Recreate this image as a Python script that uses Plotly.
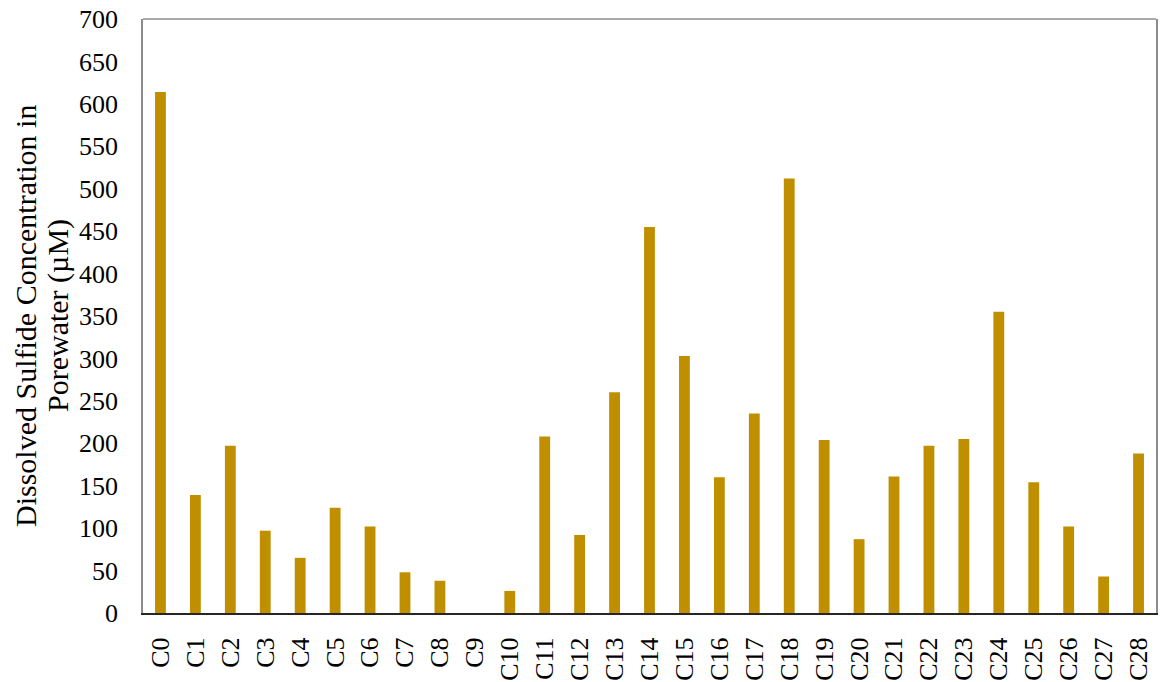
import plotly.graph_objects as go

categories = [f"C{i}" for i in range(29)]
values = [614, 139, 197, 97, 65, 124, 102, 48, 38, 0, 26, 208, 92, 260, 455,
          303, 160, 235, 512, 204, 87, 161, 197, 205, 355, 154, 102, 43, 188]
y_ticks = list(range(0, 701, 50))
y_title = ["Dissolved Sulfide Concentration in", "Porewater (µM)"]

fig = go.Figure(go.Bar(
    x=categories, y=values,
    marker=dict(color="#BF8F00", line=dict(width=0)),
))

font = "Liberation Serif, Times New Roman, serif"
fig.update_layout(
    width=1166, height=682,
    margin=dict(l=143, r=10, t=19, b=69),
    plot_bgcolor="white", paper_bgcolor="white",
    bargap=0.69, showlegend=False,
    font=dict(family=font, color="black", size=26),
    xaxis=dict(
        tickangle=-90, tickfont=dict(size=26), automargin=False,
        showline=True, linecolor="#262626", linewidth=2,
        ticks="", showgrid=False, ticklabelstandoff=12,
        ticklabeloverflow="allow",
    ),
    yaxis=dict(
        range=[0, 700], tickvals=y_ticks, tickfont=dict(size=26), automargin=False,
        showline=True, linecolor="#8C8C8C", linewidth=1.5, mirror=True,
        ticks="", showgrid=False, zeroline=False, ticklabelstandoff=18,
        ticklabeloverflow="allow",
    ),
    shapes=[dict(type="line", xref="paper", yref="paper", x0=0, x1=1, y0=1, y1=1,
                 line=dict(color="#8C8C8C", width=1.5))],
    annotations=[
        dict(text=y_title[0], xref="paper", yref="paper", x=0, y=0.5,
             xanchor="center", yanchor="middle", textangle=-90, showarrow=False,
             xshift=-118, borderpad=0, font=dict(size=30)),
        dict(text=y_title[1], xref="paper", yref="paper", x=0, y=0.5,
             xanchor="center", yanchor="middle", textangle=-90, showarrow=False,
             xshift=-85, borderpad=0, font=dict(size=30)),
    ],
)
fig.write_html("out.html", config={"displayModeBar": False},
               post_script="document.body.style.margin='0';")
